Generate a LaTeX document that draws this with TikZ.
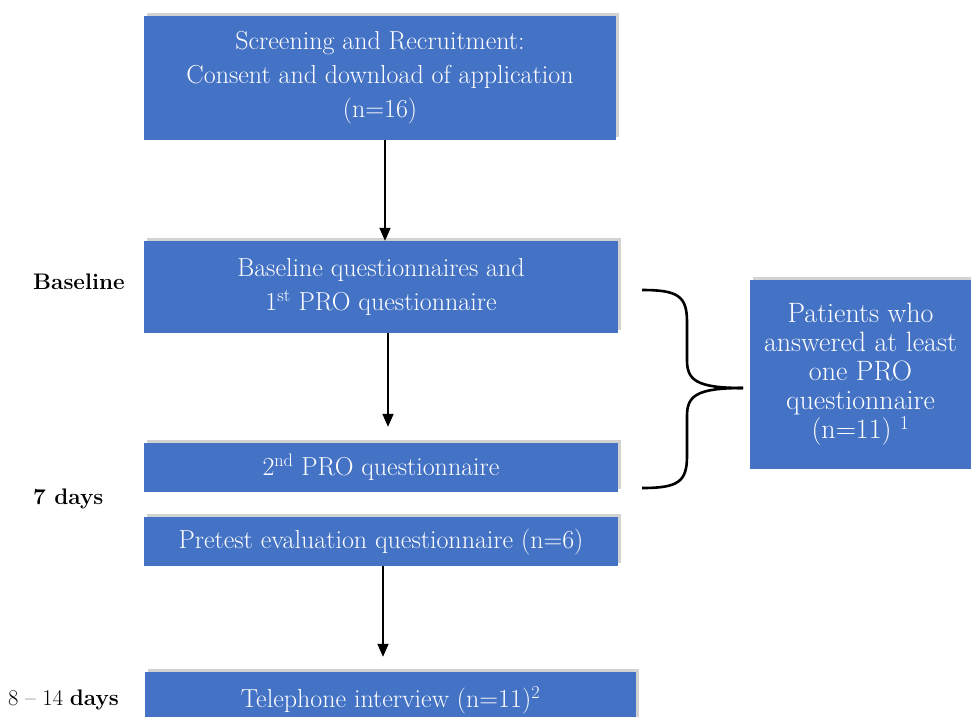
\documentclass[tikz,border=0pt]{standalone}
\usepackage{tikz}
\usetikzlibrary{positioning,calc,arrows.meta,shadows}
\definecolor{boxblue}{HTML}{4472C4}
\tikzset{>=stealth}
\tikzset{
  flowbox/.style={fill=boxblue,text=white,align=center,inner sep=0pt,
    font=\fontsize{26}{34}\selectfont,
    drop shadow={shadow xshift=3pt,shadow yshift=3pt,opacity=.25,fill=black!70}},
  flowarrow/.style={line width=1.6pt,-{Triangle[length=13pt,width=11pt]}},
  daylabel/.style={font=\fontsize{22.5}{28}\selectfont,anchor=west,inner sep=0pt}
}

\begin{document}
\begin{tikzpicture}[x=1pt,y=-1pt]
\useasboundingbox (0,0) rectangle (971,716);
\node[flowbox,minimum width=472pt,minimum height=124pt] (screen) at (380,78)
  {Screening and Recruitment:\\Consent and download of application\\(n=16)};
\node[flowbox,minimum width=474pt,minimum height=92pt] (base) at (381,287)
  {Baseline questionnaires and\\1\textsuperscript{st} PRO questionnaire};
\node[flowbox,minimum width=474pt,minimum height=49pt] (second) at (381,467.5)
  {2\textsuperscript{nd} PRO questionnaire};
\node[flowbox,minimum width=474pt,minimum height=49pt] (pretest) at (381,541.5)
  {Pretest evaluation questionnaire (n=6)};
\node[flowbox,minimum width=491pt,minimum height=56pt] (phone) at (390.5,700)
  {Telephone interview (n=11)\textsuperscript{2}};
\node[flowbox,font=\fontsize{28}{29}\selectfont,minimum width=221pt,minimum height=189pt] (patients) at (860.5,374.5)
  {Patients who\\answered at least\\one PRO\\questionnaire\\(n=11) \textsuperscript{1}};
% time points
\node[daylabel] (tbase) at (33,282) {\textbf{Baseline}};
\node[daylabel] (tseven) at (33,499) {\textbf{7 days}};
\node[daylabel] (tlate) at (8,700) {8 -- 14 \textbf{days}};
% arrows
\draw[flowarrow] ([xshift=5pt]screen.south) -- ([xshift=4pt]base.north);
\draw[flowarrow,shorten >=16pt] ([xshift=7pt]base.south) -- ([xshift=7pt]second.north);
\draw[flowarrow,shorten >=15pt] ([xshift=2pt]pretest.south) -- ([xshift=-7.5pt]phone.north);
% brace
\coordinate (bt) at (642,290);
\coordinate (bm) at (743,388);
\coordinate (bb) at (642,488);
\draw[line width=2.6pt] (bt) .. controls (678,290) and (687,296) .. (687,322)
  -- (687,360) .. controls (687,380) and (696,388) .. (bm);
\draw[line width=2.6pt] (bm) .. controls (696,388) and (687,396) .. (687,416)
  -- (687,456) .. controls (687,482) and (678,488) .. (bb);
\end{tikzpicture}
\end{document}
